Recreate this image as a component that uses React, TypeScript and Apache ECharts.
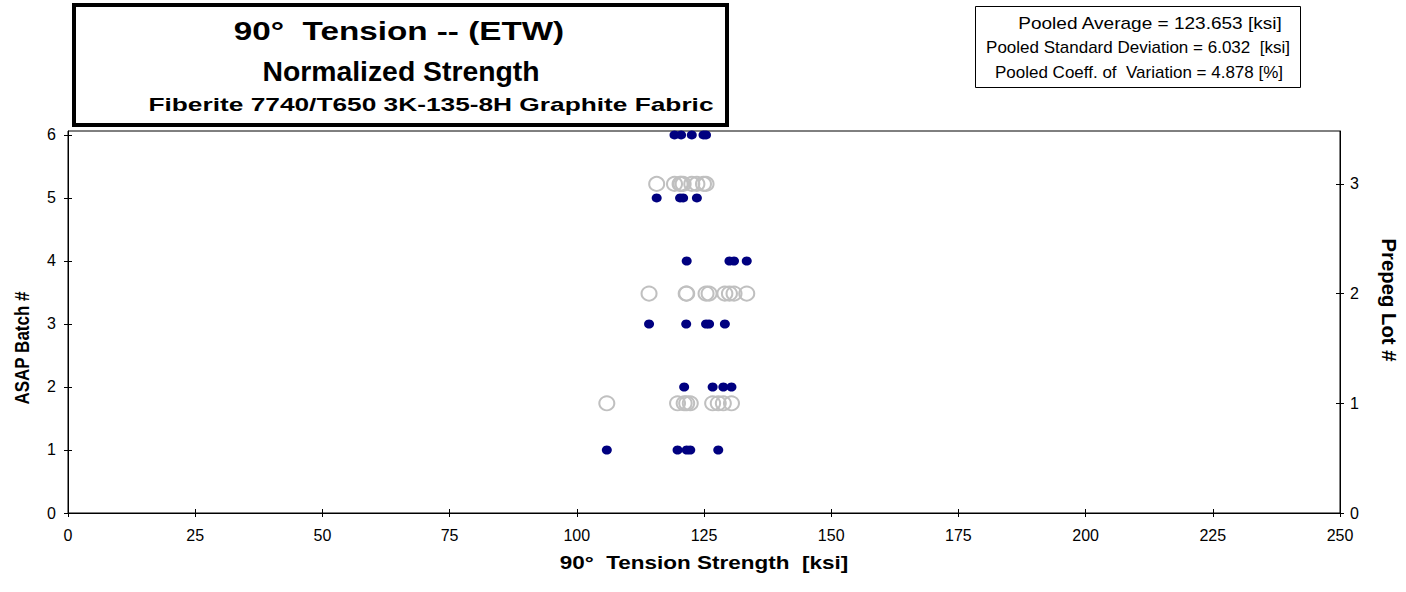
import React, { useEffect, useRef } from "react";
import * as echarts from "echarts";

// strengths [ksi] of the specimens in each ASAP batch
const batch1 = [105.9, 119.8, 121.6, 122.3, 127.8];
const batch2 = [121.1, 126.7, 128.8, 130.4];
const batch3 = [114.2, 121.5, 125.4, 126.0, 129.1];
const batch4 = [121.6, 130.0, 130.9, 133.4];
const batch5 = [115.7, 120.3, 120.9, 123.6];
const batch6 = [119.2, 120.5, 122.6, 124.9, 125.4];
const batches = [batch1, batch2, batch3, batch4, batch5, batch6];
// prepreg lot that each batch belongs to
const batchLot = [1, 1, 2, 2, 3, 3];

const xTicks = [0, 25, 50, 75, 100, 125, 150, 175, 200, 225, 250];
const batchTicks = [0, 1, 2, 3, 4, 5, 6];
const lotTicks = [0, 1, 2, 3];

const titleLines = [
  "90°  Tension -- (ETW)",
  "Normalized Strength",
  "Fiberite 7740/T650 3K-135-8H Graphite Fabric",
];
const statLines = [
  "Pooled Average = 123.653 [ksi]",
  "Pooled Standard Deviation = 6.032  [ksi]",
  "Pooled Coeff. of  Variation = 4.878 [%]",
];
const xName = "90°  Tension Strength  [ksi]";
const yName = "ASAP Batch #";
const y2Name = "Prepeg Lot #";

const FONT = "'Liberation Sans', Arial, sans-serif";
const BATCH_MAX = 6.063;
const LOT_MAX = 3.482;

export default function App() {
  const ref = useRef<HTMLDivElement>(null);
  useEffect(() => {
    if (!ref.current) return;
    const chart = echarts.init(ref.current, undefined, { renderer: "svg" });
    const batchData: number[][] = [];
    const lotData: number[][] = [];
    batches.forEach((vals, i) => {
      vals.forEach((v) => {
        batchData.push([v, i + 1]);
        lotData.push([v, batchLot[i]]);
      });
    });
    const axisLabel = { color: "#000", fontSize: 16, fontFamily: FONT };
    const tickStyle = { color: "#000", width: 1 };
    const gridBox = { left: 68, right: 66, top: 131, bottom: 79 };
    const statX = [1150, 1138, 1139];
    const statScale = [1.12, 1.0, 1.0];
    const option: any = {
      animation: false,
      textStyle: { fontFamily: FONT },
      grid: [
        {
          ...gridBox,
          show: true,
          borderColor: "#000",
          borderWidth: 1,
          backgroundColor: "transparent",
        },
        { ...gridBox, show: false },
      ],
      xAxis: [
        {
          type: "value",
          gridIndex: 0,
          min: 0,
          max: 250,
          interval: 25,
          position: "bottom",
          axisLine: { show: true, lineStyle: { color: "#000", width: 1 } },
          axisTick: { show: true, length: 4, lineStyle: tickStyle },
          axisLabel: { ...axisLabel, margin: 14, customValues: xTicks },
          splitLine: { show: false },
        },
        {
          type: "value",
          gridIndex: 1,
          min: 0,
          max: 250,
          interval: 25,
          position: "bottom",
          axisLine: { show: false },
          axisTick: { show: true, inside: true, length: 4, lineStyle: tickStyle },
          axisLabel: { show: false },
          splitLine: { show: false },
        },
      ],
      yAxis: [
        {
          type: "value",
          gridIndex: 0,
          min: 0,
          max: BATCH_MAX,
          position: "left",
          axisLine: { show: true, lineStyle: { color: "#000", width: 1 } },
          axisTick: { show: true, length: 4, customValues: batchTicks, lineStyle: tickStyle },
          axisLabel: { ...axisLabel, margin: 12, customValues: batchTicks },
          splitLine: { show: false },
        },
        {
          type: "value",
          gridIndex: 0,
          min: 0,
          max: LOT_MAX,
          position: "right",
          axisLine: { show: true, lineStyle: { color: "#000", width: 1 } },
          axisTick: { show: true, length: 4, customValues: lotTicks, lineStyle: tickStyle },
          axisLabel: { ...axisLabel, margin: 10, customValues: lotTicks },
          splitLine: { show: false },
        },
        {
          type: "value",
          gridIndex: 1,
          min: 0,
          max: BATCH_MAX,
          position: "left",
          axisLine: { show: false },
          axisTick: { show: true, inside: true, length: 4, customValues: batchTicks, lineStyle: tickStyle },
          axisLabel: { show: false, customValues: batchTicks },
          splitLine: { show: false },
        },
        {
          type: "value",
          gridIndex: 1,
          min: 0,
          max: LOT_MAX,
          position: "right",
          axisLine: { show: false },
          axisTick: { show: true, inside: true, length: 4, customValues: lotTicks, lineStyle: tickStyle },
          axisLabel: { show: false, customValues: lotTicks },
          splitLine: { show: false },
        },
      ],
      series: [
        {
          name: "Prepreg Lot",
          type: "scatter",
          xAxisIndex: 0,
          yAxisIndex: 1,
          data: lotData,
          symbol: "circle",
          symbolSize: [15, 14],
          itemStyle: { color: "rgba(255,255,255,0)", borderColor: "#C0C0C0", borderWidth: 2, opacity: 1 },
          z: 2,
        },
        {
          name: "ASAP Batch",
          type: "scatter",
          xAxisIndex: 0,
          yAxisIndex: 0,
          data: batchData,
          symbol: "circle",
          symbolSize: [10, 9],
          itemStyle: { color: "#000080", opacity: 1 },
          z: 3,
        },
        {
          name: "ticks",
          type: "scatter",
          xAxisIndex: 1,
          yAxisIndex: 2,
          data: [],
          silent: true,
        },
        {
          name: "ticks2",
          type: "scatter",
          xAxisIndex: 1,
          yAxisIndex: 3,
          data: [],
          silent: true,
        },
      ],
      graphic: [
        {
          type: "rect",
          shape: { x: 74, y: 5, width: 653, height: 120 },
          style: { fill: "#fff", stroke: "#000", lineWidth: 4 },
          z: 10,
        },
        {
          type: "text",
          x: 399,
          y: 31,
          scaleX: 1.33,
          style: { text: titleLines[0], font: `bold 25px ${FONT}`, fill: "#000", align: "center", verticalAlign: "middle" },
          z: 11,
        },
        {
          type: "text",
          x: 401,
          y: 72,
          scaleX: 1.05,
          style: { text: titleLines[1], font: `bold 27px ${FONT}`, fill: "#000", align: "center", verticalAlign: "middle" },
          z: 11,
        },
        {
          type: "text",
          x: 431,
          y: 105,
          scaleX: 1.46,
          style: { text: titleLines[2], font: `bold 18px ${FONT}`, fill: "#000", align: "center", verticalAlign: "middle" },
          z: 11,
        },
        {
          type: "rect",
          shape: { x: 975.5, y: 6.5, width: 325, height: 81 },
          style: { fill: "#fff", stroke: "#000", lineWidth: 1 },
          z: 10,
        },
        ...statLines.map((t, i) => ({
          type: "text",
          x: statX[i],
          y: 23 + i * 24.5,
          scaleX: statScale[i],
          style: { text: t, font: `17px ${FONT}`, fill: "#000", align: "center", verticalAlign: "middle" },
          z: 11,
        })),
        {
          type: "text",
          x: 704,
          y: 563,
          scaleX: 1.25,
          style: { text: xName, font: `bold 18px ${FONT}`, fill: "#000", align: "center", verticalAlign: "middle" },
          z: 11,
        },
        {
          type: "text",
          x: 22,
          y: 348,
          rotation: Math.PI / 2,
          scaleY: 1.2,
          style: { text: yName, font: `bold 17px ${FONT}`, fill: "#000", align: "center", verticalAlign: "middle" },
          z: 11,
        },
        {
          type: "text",
          x: 1389,
          y: 300,
          rotation: -Math.PI / 2,
          scaleX: 1.13,
          scaleY: 1.1,
          style: { text: y2Name, font: `bold 18px ${FONT}`, fill: "#000", align: "center", verticalAlign: "middle" },
          z: 11,
        },
      ],
    };
    chart.setOption(option);
    return () => chart.dispose();
  }, []);
  return (
    <div
      ref={ref}
      style={{ position: "absolute", left: 0, top: 0, width: 1406, height: 592, background: "#fff" }}
    />
  );
}
